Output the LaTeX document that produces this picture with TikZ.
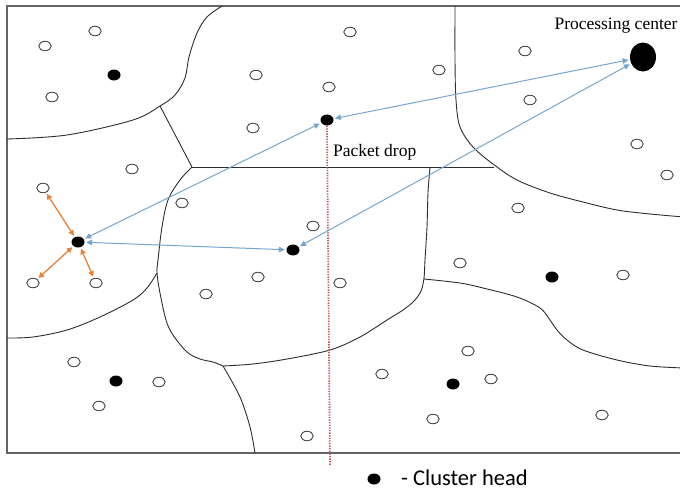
\documentclass[tikz,border=0pt]{standalone}
\usepackage{fontspec}
\setmainfont{Liberation Serif}
\newfontfamily\legendfont{Carlito}
\usetikzlibrary{arrows.meta,shapes.geometric}
\definecolor{linkblue}{RGB}{118,166,208}
\definecolor{linkorange}{RGB}{230,130,60}
\definecolor{dropred}{RGB}{200,85,95}
\definecolor{framegray}{RGB}{100,100,100}
\begin{document}
\begin{tikzpicture}[x=1pt,y=-1pt,
  sensor/.style={ellipse,draw=black!72,line width=0.9pt,minimum width=12.5pt,minimum height=9.5pt,inner sep=0pt},
  head/.style={ellipse,fill=black,minimum width=13pt,minimum height=11pt,inner sep=0pt},
  centre/.style={ellipse,fill=black,minimum width=26pt,minimum height=29pt,inner sep=0pt},
  frame/.style={draw=framegray,line width=1.4pt},
  zone/.style={draw=black!82,line width=0.9pt},
  bluelink/.style={draw=linkblue,line width=1pt,{Triangle[length=6pt,width=5.5pt]}-{Triangle[length=6pt,width=5.5pt]},shorten >=1.5pt,shorten <=1.5pt},
  orangelink/.style={draw=linkorange,line width=1.3pt,{Triangle[length=5.5pt,width=5.5pt]}-{Triangle[length=5.5pt,width=5.5pt]},shorten >=1.5pt,shorten <=1.5pt},
  droplink/.style={draw=dropred,line width=1.7pt,dash pattern=on 1.3pt off 1.3pt},
  seriflabel/.style={font=\fontsize{17.5}{20}\selectfont,inner sep=0pt},
  legendlabel/.style={font={\legendfont\fontsize{22.5}{24}\selectfont},inner sep=0pt}
]
\useasboundingbox (0,0) rectangle (680,490);
\fill[white] (0,0) rectangle (680,490);

% outer frame (right side runs off the picture)
\draw[frame] (684,6) -- (7,6) -- (7,453) -- (684,453);

% region boundaries
\draw[zone] plot[smooth,tension=0.55] coordinates {(7,139) (67,135) (133,120) (160,106) (175,95) (185,78) (189,57) (197,33) (207,17) (222,6)};
\draw[zone] (160,106) -- (192,167);
\draw[zone] (192,167) -- (494,167);
\draw[zone] plot[smooth,tension=0.55] coordinates {(455,6) (455,60) (456,100) (460,127) (473,147) (493,164) (517,180) (550,193) (583,202) (617,210) (650,214) (684,217)};
\draw[zone] plot[smooth,tension=0.55] coordinates {(192,167) (180,180) (168,200) (162,227) (158,260) (157,273) (160,293) (166,320) (173,335) (187,352) (200,359) (213,362) (223,366)};
\draw[zone] plot[smooth,tension=0.55] coordinates {(7,338) (33,337) (67,330) (100,317) (133,300) (147,288) (157,273)};
\draw[zone] plot[smooth,tension=0.55] coordinates {(223,366) (240,397) (250,427) (255,453)};
\draw[zone] plot[smooth,tension=0.55] coordinates {(223,366) (253,364) (287,359) (330,350) (360,337) (387,320) (403,310) (414,301) (421,291) (424,278) (425,260) (427,227) (428,193) (430,167)};
\draw[zone] plot[smooth,tension=0.55] coordinates {(424,279) (460,283) (483,288) (517,297) (540,308) (550,320) (557,330) (567,340) (583,350) (617,360) (650,366) (684,368)};

% sensors (open circles)
\node[sensor] (s1) at (95,31) {};
\node[sensor] (s2) at (45,46) {};
\node[sensor] (s3) at (52,97) {};
\node[sensor] (s4) at (350,32) {};
\node[sensor] (s5) at (256,75) {};
\node[sensor] (s6) at (329,87) {};
\node[sensor] (s7) at (439,70) {};
\node[sensor] (s8) at (253,128) {};
\node[sensor] (s9) at (525,51) {};
\node[sensor] (s10) at (530,100) {};
\node[sensor] (s11) at (637,144) {};
\node[sensor] (s12) at (667,175) {};
\node[sensor] (s13) at (132,169) {};
\node[sensor] (sL1) at (43,188) {};
\node[sensor] (sL2) at (33,283) {};
\node[sensor] (sL3) at (96,283) {};
\node[sensor] (s14) at (182,203) {};
\node[sensor] (s15) at (206,294) {};
\node[sensor] (s16) at (313,226) {};
\node[sensor] (s17) at (258,277) {};
\node[sensor] (s18) at (340,283) {};
\node[sensor] (s19) at (518,208) {};
\node[sensor] (s20) at (460,263) {};
\node[sensor] (s21) at (623,275) {};
\node[sensor] (s22) at (74,362) {};
\node[sensor] (s23) at (159,382) {};
\node[sensor] (s24) at (99,406) {};
\node[sensor] (s25) at (382,374) {};
\node[sensor] (s26) at (433,419) {};
\node[sensor] (s27) at (307,436) {};
\node[sensor] (s28) at (468,351) {};
\node[sensor] (s29) at (491,379) {};
\node[sensor] (s30) at (602,415) {};

% cluster heads
\node[head] (h1) at (114,75) {};
\node[head] (hA) at (327,120) {};
\node[head] (hL) at (78,242) {};
\node[head] (hM) at (293,250) {};
\node[head] (h5) at (552,277) {};
\node[head] (h6) at (116,381) {};
\node[head] (h7) at (453,384) {};

% processing center
\node[centre] (pc) at (643,57) {};
\node[seriflabel] (pclabel) at (616,26) {Processing center};

% packet drop
\coordinate (dropend) at (330,466);
\draw[droplink] (hA.south) -- (dropend);
\node[seriflabel,anchor=west] (droplabel) at (333,152) {Packet drop};

% links
\draw[bluelink] (hA) -- (hL);
\draw[bluelink] (hM) -- (hL);
\draw[bluelink] (pc) -- (hA);
\draw[bluelink] (pc) -- (hM);
\draw[orangelink] (hL) -- (sL1);
\draw[orangelink] (hL) -- (sL2);
\draw[orangelink] (hL) -- (sL3);

% legend
\node[head] (legenddot) at (374,479) {};
\node[legendlabel,anchor=base west] (legendtext) at (401,485) {- Cluster head};
\end{tikzpicture}
\end{document}
